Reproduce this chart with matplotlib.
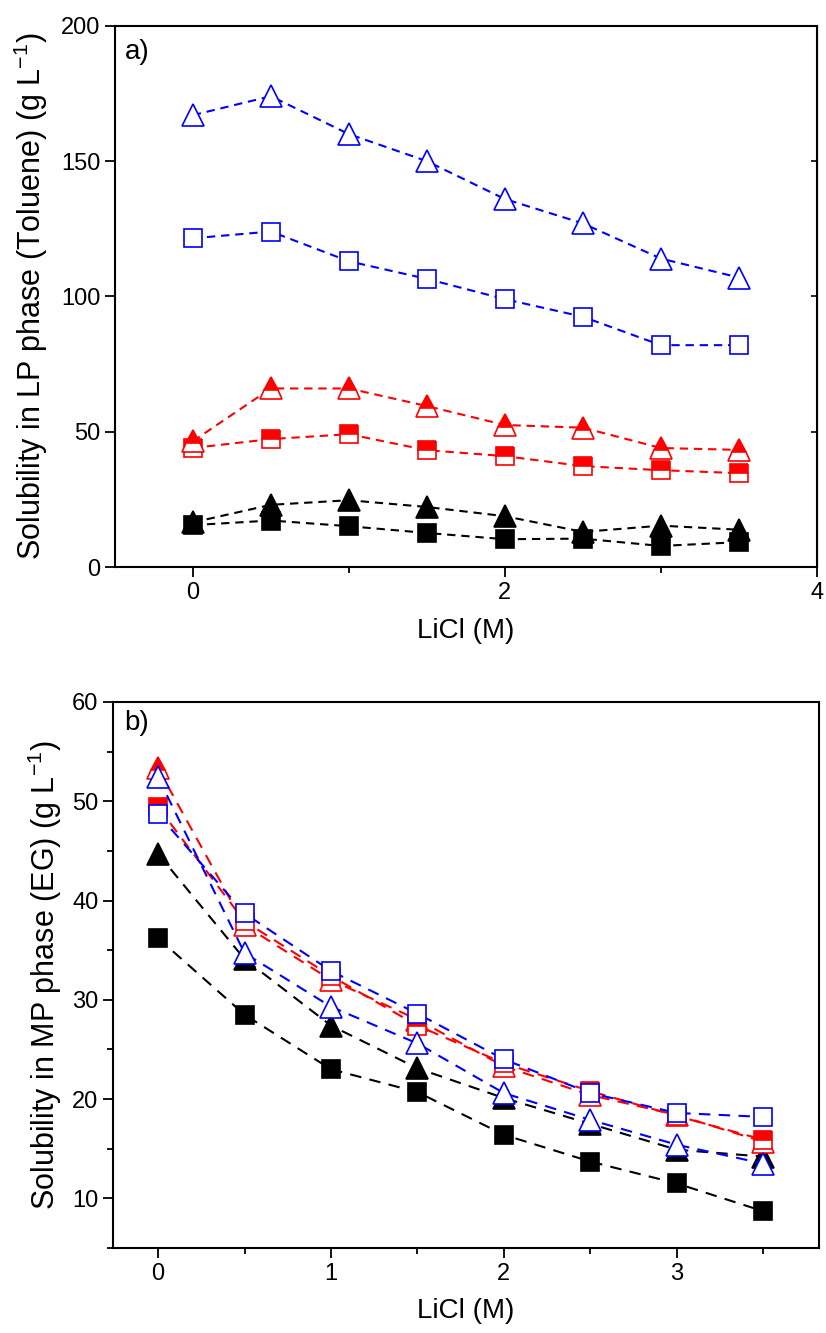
import matplotlib
matplotlib.use("Agg")
import matplotlib.pyplot as plt
from matplotlib.ticker import MultipleLocator, NullFormatter

plt.rcParams['font.family'] = ['Liberation Sans', 'DejaVu Sans']
plt.rcParams['mathtext.fontset'] = 'custom'
plt.rcParams['mathtext.rm'] = 'Liberation Sans'
plt.rcParams['mathtext.it'] = 'Liberation Sans:italic'

# ---- data ----
licl = [0, 0.5, 1, 1.5, 2, 2.5, 3, 3.5]

# Panel a: solubility in LP phase (Toluene)
a_blue_tri = [167, 174, 160, 150, 136, 127, 114, 107]
a_blue_sq = [121.5, 124, 113, 106.5, 99, 92.5, 82, 82]
a_red_tri = [46.5, 66, 66, 59.5, 52.5, 51.5, 44, 43.3]
a_red_sq = [44, 47.3, 49.1, 43.2, 41, 37.3, 35.8, 34.7]
a_blk_tri = [16.5, 23, 24.7, 22.2, 18.8, 13, 15.3, 13.8]
a_blk_sq = [15.5, 17.2, 15.1, 12.6, 10.3, 10.5, 7.8, 9.2]

# Panel b: solubility in MP phase (EG)
b_red_tri = [53.3, 37.5, 32.0, 28.0, 23.3, 20.4, 18.4, 15.7]
b_blue_tri = [52.4, 34.7, 29.3, 25.6, 20.6, 17.9, 15.4, 13.5]
b_red_sq = [49.4, 37.9, 32.4, 27.4, 23.6, 20.8, 18.3, 15.9]
b_blue_sq = [48.7, 38.7, 32.9, 28.6, 24.0, 20.6, 18.6, 18.2]
b_blk_tri = [44.7, 34.1, 27.4, 23.1, 20.1, 17.5, 14.9, 14.2]
b_blk_sq = [36.2, 28.5, 23.0, 20.7, 16.4, 13.7, 11.5, 8.7]

fig = plt.figure(figsize=(8.26, 13.33), dpi=100)
ax1 = fig.add_axes([0.139, 0.5746, 0.850, 0.406])
ax2 = fig.add_axes([0.137, 0.0638, 0.854, 0.4096])

TFS = 17
LFS = 20
YFS = 22
LW = 1.5
SQ = 13
TR = 16


def series(ax, y, color, marker, kind, dash):
    ms = SQ if marker == 's' else TR
    kw = dict(color=color, linestyle=dash, linewidth=LW, marker=marker,
              markersize=ms, markeredgewidth=1.2, markeredgecolor=color)
    if kind == 'open':
        kw.update(markerfacecolor='white')
    elif kind == 'filled':
        kw.update(markerfacecolor=color)
    else:
        kw.update(fillstyle='top', markerfacecolor=color,
                  markerfacecoloralt='white')
    ax.plot(licl, y, **kw)


# panel a
da = (0, (4, 2.8))
series(ax1, a_blk_sq, 'black', 's', 'filled', da)
series(ax1, a_blk_tri, 'black', '^', 'filled', da)
series(ax1, a_red_sq, 'red', 's', 'half', da)
series(ax1, a_red_tri, 'red', '^', 'half', da)
series(ax1, a_blue_sq, 'blue', 's', 'open', da)
series(ax1, a_blue_tri, 'blue', '^', 'open', da)

ax1.set_xlim(-0.5, 4)
ax1.set_ylim(0, 200)
ax1.xaxis.set_major_locator(MultipleLocator(2))
ax1.xaxis.set_minor_locator(MultipleLocator(1))
ax1.yaxis.set_major_locator(MultipleLocator(50))
ax1.tick_params(axis='both', which='major', direction='out', length=7, width=1.3,
                labelsize=TFS)
ax1.tick_params(axis='x', which='minor', direction='out', length=4, width=1.3)
sec = ax1.secondary_yaxis('right')
sec.yaxis.set_major_locator(MultipleLocator(50))
sec.yaxis.set_major_formatter(NullFormatter())
sec.tick_params(direction='in', length=4, width=1.2)
for sp in ax1.spines.values():
    sp.set_linewidth(1.5)
ax1.set_xlabel('LiCl (M)', fontsize=LFS, labelpad=10)
ax1.set_ylabel('Solubility in LP phase (Toluene) (g L$^{-1}$)', fontsize=YFS,
               labelpad=8)
ax1.text(0.015, 0.975, 'a)', transform=ax1.transAxes, fontsize=LFS,
         va='top', ha='left')

# panel b
db = (0, (5.5, 4))
series(ax2, b_blk_sq, 'black', 's', 'filled', db)
series(ax2, b_blk_tri, 'black', '^', 'filled', db)
series(ax2, b_red_tri, 'red', '^', 'half', db)
series(ax2, b_red_sq, 'red', 's', 'half', db)
series(ax2, b_blue_tri, 'blue', '^', 'open', db)
series(ax2, b_blue_sq, 'blue', 's', 'open', db)

ax2.set_xlim(-0.26, 3.82)
ax2.set_ylim(5, 60)
ax2.xaxis.set_major_locator(MultipleLocator(1))
ax2.xaxis.set_minor_locator(MultipleLocator(0.5))
ax2.yaxis.set_major_locator(MultipleLocator(10))
ax2.yaxis.set_minor_locator(MultipleLocator(5))
ax2.tick_params(axis='both', which='major', direction='out', length=7, width=1.3,
                labelsize=TFS)
ax2.tick_params(axis='both', which='minor', direction='out', length=4, width=1.3)
for sp in ax2.spines.values():
    sp.set_linewidth(1.5)
ax2.set_xlabel('LiCl (M)', fontsize=LFS, labelpad=10)
ax2.set_ylabel('Solubility in MP phase (EG) (g L$^{-1}$)', fontsize=YFS,
               labelpad=6)
ax2.text(0.015, 0.985, 'b)', transform=ax2.transAxes, fontsize=LFS,
         va='top', ha='left')

fig.savefig('out.png', dpi=100)
